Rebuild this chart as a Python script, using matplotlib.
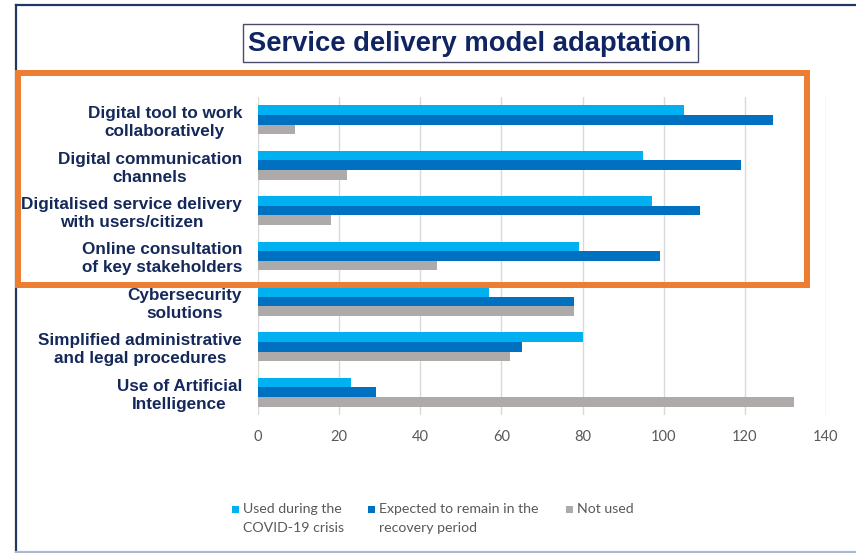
import matplotlib
matplotlib.use("Agg")
import matplotlib.pyplot as plt
from matplotlib.patches import Rectangle
from matplotlib.lines import Line2D
import numpy as np

categories = [
    "Digital tool to work\ncollaboratively",
    "Digital communication\nchannels",
    "Digitalised service delivery\nwith users/citizen",
    "Online consultation\nof key stakeholders",
    "Cybersecurity\nsolutions",
    "Simplified administrative\nand legal procedures",
    "Use of Artificial\nIntelligence",
]
used_covid = [105, 95, 97, 79, 57, 80, 23]
expected_remain = [127, 119, 109, 99, 78, 65, 29]
not_used = [9, 22, 18, 44, 78, 62, 132]
series_labels = ["Used during the\nCOVID-19 crisis",
                 "Expected to remain in the\nrecovery period",
                 "Not used"]
series_colors = ["#00B0F0", "#0070C0", "#AEAAAA"]
xticks = [0, 20, 40, 60, 80, 100, 120, 140]
title = "Service delivery model adaptation"

W, H = 856, 553
fig = plt.figure(figsize=(W / 100, H / 100), dpi=100)

def fx(px):
    return px / W

def fy(py):
    return 1 - py / H

navy = "#14285A"
ax = fig.add_axes([fx(258), fy(415), fx(826) - fx(258), fy(97) - fy(415)])

y = np.arange(len(categories))
h = 0.212
for k, (vals, col) in enumerate(zip([used_covid, expected_remain, not_used], series_colors)):
    ax.barh(y + (k - 1) * h, vals, height=h, color=col, zorder=3)

ax.set_xlim(0, 140)
ax.set_ylim(len(categories) - 0.5, -0.5)
ax.set_xticks(xticks)
ax.set_xticklabels([str(t) for t in xticks], fontsize=10.5, color="#595959", family="Lato")
ax.set_yticks(y)
ax.set_yticklabels(categories, fontsize=12.3, fontweight="bold", color=navy,
                   family=["Liberation Sans", "DejaVu Sans"])
for t in ax.get_yticklabels():
    t.set_multialignment("center")
    t.set_linespacing(1.25)
ax.tick_params(axis="y", length=0, pad=11.5)
ax.tick_params(axis="x", length=0, pad=11)
ax.grid(axis="x", color="#D9D9D9", linewidth=1.0, zorder=0)
for s in ax.spines.values():
    s.set_visible(False)

# Outer frame lines
fig.add_artist(Line2D([fx(16), fx(16)], [fy(5), fy(553)], color="#1F3864", linewidth=1.6))
fig.add_artist(Line2D([fx(16), fx(856)], [fy(5), fy(5)], color="#1F3864", linewidth=1.6))
fig.add_artist(Line2D([fx(16), fx(856)], [fy(552), fy(552)], color="#A9B8CF", linewidth=1.6))

# Title with box
fig.add_artist(Rectangle((fx(243), fy(62)), fx(698) - fx(243), fy(24) - fy(62),
                         facecolor="white", edgecolor="#4A4A6A", linewidth=1.0))
fig.text(fx(470), fy(44), title, ha="center", va="center", fontsize=19.7,
         fontweight="bold", color="#0F2461",
         family=["Liberation Sans", "DejaVu Sans"])

# Orange highlight rectangle
fig.add_artist(Rectangle((fx(18), fy(285)), fx(807) - fx(18), fy(73) - fy(285),
                         facecolor="none", edgecolor="#ED7D31", linewidth=4.3, zorder=10))

# Legend
leg_x = [232, 368, 566]
for lx, lab, col in zip(leg_x, series_labels, series_colors):
    fig.add_artist(Rectangle((fx(lx), fy(513)), fx(7), 7 / H, facecolor=col, edgecolor="none"))
    fig.text(fx(lx + 11), fy(503), lab, ha="left", va="top", fontsize=10.2,
             color="#595959", family="Lato", linespacing=1.65)

fig.savefig("out.png", dpi=100)
